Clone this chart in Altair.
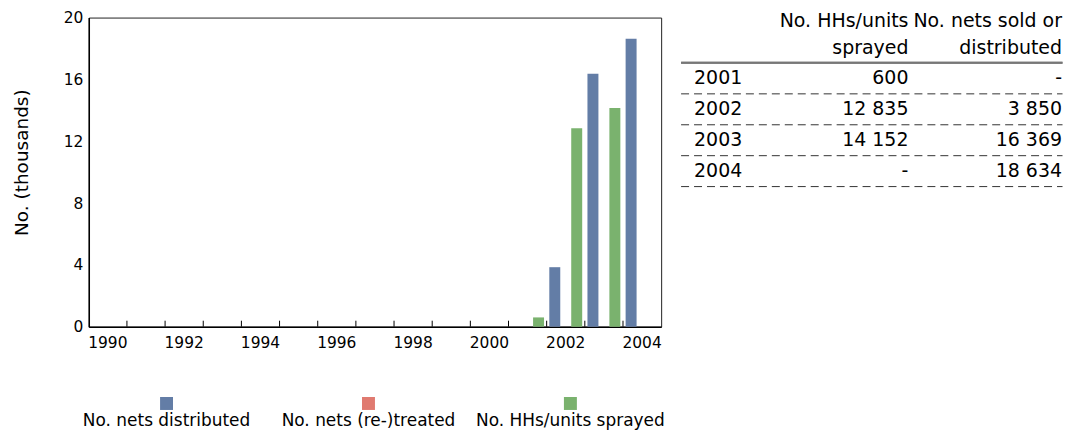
import altair as alt
import pandas as pd

FONT = "DejaVu Sans"

# ---- data -------------------------------------------------------------
years = list(range(1990, 2005))
series = ["No. nets distributed", "No. nets (re-)treated", "No. HHs/units sprayed"]
colors = ["#637DA6", "#E07A70", "#7AB26E"]

table_years = [2001, 2002, 2003, 2004]
nets_counts = [None, 3850, 16369, 18634]        # No. nets sold or distributed
treated_counts = [None, None, None, None]       # No. nets (re-)treated
sprayed_counts = [600, 12835, 14152, None]      # No. HHs/units sprayed

header_sprayed = ["No. HHs/units", "sprayed"]
header_nets = ["No. nets sold or", "distributed"]

y_ticks = [0, 4, 8, 12, 16, 20]

# ---- tables built from the arrays -------------------------------------
rows = []
for i, yr in enumerate(table_years):
    for name, arr in zip(series, [nets_counts, treated_counts, sprayed_counts]):
        v = arr[i]
        if v is not None:
            rows.append({"year": yr, "series": name, "value": v / 1000.0})
bars_df = pd.DataFrame(rows)


def fmt(v):
    return "-" if v is None else f"{v:,}".replace(",", " ")


table_df = pd.DataFrame({
    "year": [str(y) for y in table_years],
    "sprayed": [fmt(v) for v in sprayed_counts],
    "nets": [fmt(v) for v in nets_counts],
})
ticks_df = pd.DataFrame({"year": years[1:]})
legend_df = pd.DataFrame({"series": series})

# ---- main chart -------------------------------------------------------
W, H = 574, 310
LBL = 15.5

x_scale = alt.Scale(domain=years, paddingInner=0, paddingOuter=0)
x_axis = alt.Axis(
    title=None, labelAngle=0, labelOverlap=False, ticks=False, tickSize=0,
    labelPadding=9, labelFontSize=LBL, labelColor="#000",
    labelExpr="datum.value % 2 == 0 ? datum.label : ''",
    domainColor="#000", domainWidth=1.5,
)
color_scale = alt.Scale(domain=series, range=colors)

bars = alt.Chart(bars_df).mark_bar().encode(
    x=alt.X("year:O", scale=x_scale, axis=x_axis),
    xOffset=alt.XOffset("series:N", scale=alt.Scale(domain=series, paddingInner=0, paddingOuter=0.24)),
    y=alt.Y("value:Q", scale=alt.Scale(domain=[0, 20]),
            axis=alt.Axis(values=y_ticks, title="No. (thousands)", grid=False,
                          ticks=False, tickSize=0, labelPadding=6,
                          labelFontSize=LBL, labelColor="#000",
                          titleFontSize=18.5, titleFontWeight="normal", titleColor="#000",
                          titleAngle=270, titleBaseline="alphabetic", titleAlign="center",
                          titleX=-61, titleY=145,
                          domainColor="#000", domainWidth=1.5)),
    color=alt.Color("series:N", scale=color_scale, legend=None),
)

tick_marks = alt.Chart(ticks_df).mark_rule(color="#000", strokeWidth=1).encode(
    x=alt.X("year:O", scale=x_scale, axis=x_axis, bandPosition=0),
    y=alt.value(H),
    y2=alt.value(H - 6),
)

main = alt.layer(bars, tick_marks).properties(
    width=W, height=H, view=alt.ViewBackground(stroke="#222", strokeWidth=1)
)

# ---- table (origin aligned with the plot's top edge) -------------------
TW, TH = 401, 175
TS = 19
XC0, XC1, XC2, XL0, XL1 = 31, 246, 400, 18, 400.5
row_y = alt.Y("year:O", scale=alt.Scale(type="point", domain=table_df["year"].tolist(),
                                        range=[67, 160], padding=0), axis=None)

t_year = alt.Chart(table_df).mark_text(align="left", baseline="alphabetic", fontSize=TS, color="#000").encode(
    x=alt.value(XC0), y=row_y, text="year:N")
t_spr = alt.Chart(table_df).mark_text(align="right", baseline="alphabetic", fontSize=TS, color="#000").encode(
    x=alt.value(XC1), y=row_y, text="sprayed:N")
t_nets = alt.Chart(table_df).mark_text(align="right", baseline="alphabetic", fontSize=TS, color="#000").encode(
    x=alt.value(XC2), y=row_y, text="nets:N")
t_dash = alt.Chart(table_df).mark_rule(strokeDash=[8, 5], color="#333", strokeWidth=1, yOffset=9.5).encode(
    x=alt.value(XL0), x2=alt.value(XL1), y=row_y)

hdr_df = pd.DataFrame({"c1": header_sprayed, "c2": header_nets, "line": [0, 1]})
hdr_y = [9.5, 37]
hdr_layers = []
for li in range(2):
    for field, xpos in [("c1", XC1), ("c2", XC2)]:
        hdr_layers.append(
            alt.Chart(hdr_df).transform_filter(f"datum.line == {li}").mark_text(
                align="right", baseline="alphabetic", fontSize=TS, color="#000").encode(
                x=alt.value(xpos), y=alt.value(hdr_y[li]), text=f"{field}:N")
        )
t_line = alt.Chart(hdr_df).mark_rule(color="#777", strokeWidth=2).encode(
    x=alt.value(XL0), x2=alt.value(XL1), y=alt.value(45.3))

table = alt.layer(t_line, t_dash, t_year, t_spr, t_nets, *hdr_layers).properties(
    width=TW, height=TH, view=alt.ViewBackground(stroke="transparent")
)

# ---- legend (origin aligned with the plot's left edge) ------------------
lx = alt.X("series:N", scale=alt.Scale(type="point", domain=series, range=[78, 483], padding=0), axis=None)
l_sq = alt.Chart(legend_df).mark_square(size=169, opacity=1).encode(
    x=lx, y=alt.value(8), color=alt.Color("series:N", scale=color_scale, legend=None))
l_tx = alt.Chart(legend_df).mark_text(fontSize=17, baseline="alphabetic", align="center", color="#000").encode(
    x=lx, y=alt.value(31), text="series:N")
legend = alt.layer(l_sq, l_tx).properties(
    width=560, height=31, view=alt.ViewBackground(stroke="transparent"))

chart = alt.vconcat(
    alt.hconcat(main, table, spacing=0),
    legend,
    spacing=43,
).properties(
    padding={"left": 4, "top": 1, "right": 0, "bottom": 0}
).configure(font=FONT).configure_view(stroke="transparent")

chart.save("out.html", embed_options={"renderer": "svg", "actions": False})
